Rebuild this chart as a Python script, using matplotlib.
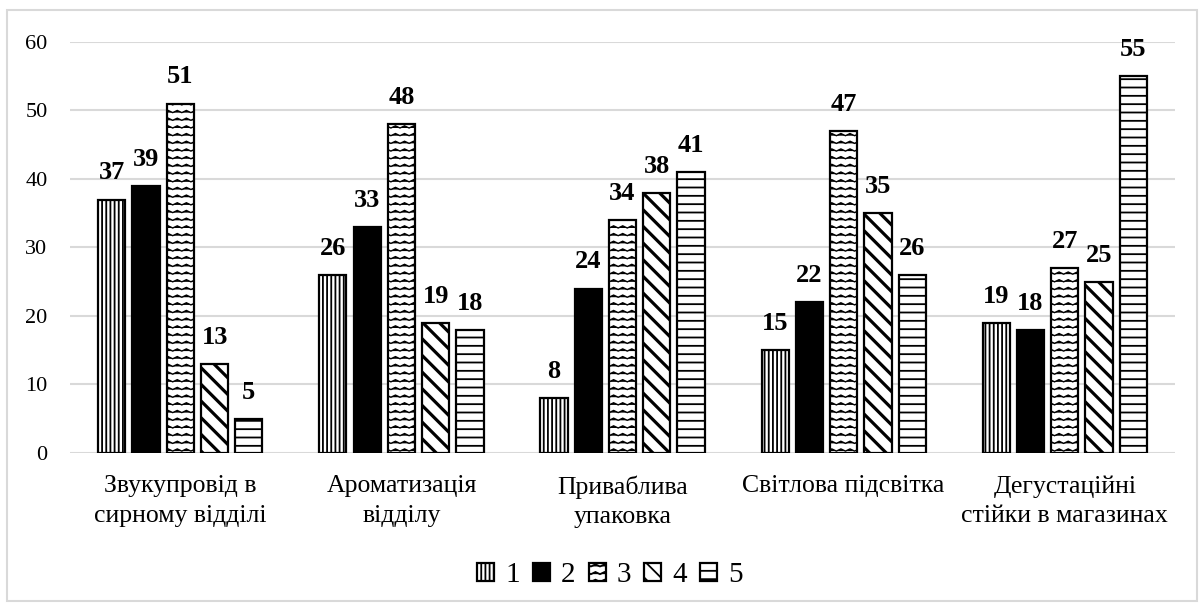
import warnings
import numpy as np
import matplotlib
matplotlib.use("Agg")
import matplotlib.pyplot as plt
import matplotlib.hatch as mhatch
from matplotlib.path import Path
from matplotlib.patches import Rectangle, Patch

warnings.filterwarnings("ignore")

categories = ["Звукупровід в\nсирному відділі", "Ароматизація\nвідділу",
              "Приваблива\nупаковка", "Світлова підсвітка",
              "Дегустаційні\nстійки в магазинах"]
series_names = ["1", "2", "3", "4", "5"]
s1 = [37, 26, 8, 15, 19]
s2 = [39, 33, 24, 22, 18]
s3 = [51, 48, 34, 47, 27]
s4 = [13, 19, 38, 35, 25]
s5 = [5, 18, 41, 26, 55]
yticks = [0, 10, 20, 30, 40, 50, 60]


class WavyHatch(mhatch.HatchPatternBase):
    """Rows of fine zigzag lines, selected with the '~' hatch character."""

    def __init__(self, hatch, density):
        self.num_rows = int(hatch.count('~') * density * 1.15)
        self.num_pts = 23
        self.num_vertices = self.num_rows * self.num_pts

    def set_vertices_and_codes(self, vertices, codes):
        n = self.num_rows
        xs = np.linspace(0.0, 1.0, self.num_pts)
        amp = 0.14 / n
        offs = np.where(np.arange(self.num_pts) % 2 == 0, -amp, amp)
        for r in range(n):
            y0 = (r + 0.5) / n
            seg = slice(r * self.num_pts, (r + 1) * self.num_pts)
            vertices[seg, 0] = xs
            vertices[seg, 1] = y0 + offs
            codes[seg] = Path.LINETO
            codes[r * self.num_pts] = Path.MOVETO


mhatch._hatch_types.append(WavyHatch)

plt.rcParams['font.family'] = ['Liberation Serif', 'DejaVu Serif']

fig = plt.figure(figsize=(12.03, 6.08), dpi=100)
ax = fig.add_axes([0.058, 0.255, 0.919, 0.676])

all_series = [s1, s2, s3, s4, s5]
styles = [
    dict(facecolor='white', hatch='||||', hlw=1.3),
    dict(facecolor='black', hatch=None, hlw=1.0),
    dict(facecolor='white', hatch='~~', hlw=1.0),
    dict(facecolor='white', hatch='\\\\', hlw=2.3),
    dict(facecolor='white', hatch='--', hlw=1.3),
]

x = np.arange(len(categories))
pitch = 0.155
width = 0.123
handles = []
for i, (vals, st) in enumerate(zip(all_series, styles)):
    plt.rcParams['hatch.linewidth'] = st['hlw']
    pos = x + (i - 2) * pitch
    bars = ax.bar(pos, vals, width, facecolor=st['facecolor'],
                  edgecolor='black', linewidth=1.6, hatch=st['hatch'],
                  zorder=3)
    for b in bars:
        if hasattr(b, 'set_hatch_linewidth'):
            b.set_hatch_linewidth(st['hlw'])
    for xp, v in zip(pos, vals):
        ax.annotate(str(v), (xp, v), xytext=(0, 14.5), textcoords='offset points',
                    ha='center', va='baseline', fontsize=19, fontweight='bold',
                    zorder=4)
    h = Patch(facecolor=st['facecolor'], edgecolor='black', linewidth=1.6,
              hatch=st['hatch'], label=series_names[i])
    if hasattr(h, 'set_hatch_linewidth'):
        h.set_hatch_linewidth(min(st['hlw'], 1.5))
    handles.append(h)

ax.set_xlim(-0.5, len(categories) - 0.5)
ax.set_ylim(0, 60)
ax.set_yticks(yticks)
ax.set_yticklabels([str(t) for t in yticks], fontsize=16)
ax.set_xticks(x)
ax.set_xticklabels(categories, fontsize=18.5, linespacing=1.45, va='top')
ax.tick_params(axis='both', length=0)
ax.tick_params(axis='y', pad=16)
ax.tick_params(axis='x', pad=16)
for s in ax.spines.values():
    s.set_visible(False)
ax.grid(axis='y', color='#d9d9d9', linewidth=1.5, zorder=0)
ax.set_axisbelow(True)

fig.legend(handles=handles, loc='center', bbox_to_anchor=(0.507, 0.054),
           ncol=5, frameon=False, fontsize=21, handlelength=0.58,
           handleheight=0.58, handletextpad=0.38, columnspacing=0.45,
           borderpad=0.1)

fig.patches.append(Rectangle((0.006, 0.012), 0.989, 0.972,
                             transform=fig.transFigure, fill=False,
                             edgecolor='#d9d9d9', linewidth=1.5))

fig.savefig("out.png", dpi=100)
